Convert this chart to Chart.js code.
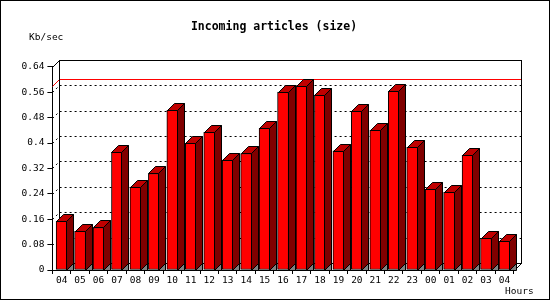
<!DOCTYPE html>
<html>
<head>
<meta charset="utf-8">
<script src="https://cdn.jsdelivr.net/npm/chart.js@4/dist/chart.umd.min.js"></script>
<style>
    html, body { margin: 0; padding: 0; background: #fff; }
</style>
</head>
<body>
<canvas id="chart" width="550" height="300"></canvas>
<script>
// 시간대 (x축)
const hours = ['04', '05', '06', '07', '08', '09', '10', '11', '12', '13', '14', '15', '16',
               '17', '18', '19', '20', '21', '22', '23', '00', '01', '02', '03', '04'];
// 들어온 기사 크기 (Kb/sec)
const kbPerSec = [0.153, 0.122, 0.134, 0.371, 0.261, 0.304, 0.503, 0.399, 0.434, 0.346, 0.367, 0.446, 0.560,
                  0.579, 0.551, 0.375, 0.500, 0.440, 0.563, 0.386, 0.254, 0.245, 0.361, 0.100, 0.090];
// y축 눈금
const yTickValues = [0, 0.08, 0.16, 0.24, 0.32, 0.4, 0.48, 0.56, 0.64];
const yTickLabels = ['0', '0.08', '0.16', '0.24', '0.32', '0.4', '0.48', '0.56', '0.64'];

const DEPTH = 7;
const monoFont = { family: 'DejaVu Sans Mono', size: 9.5 };

function px(v) { return Math.round(v) + 0.5; }

function poly(ctx, pts, fill) {
    ctx.beginPath();
    ctx.moveTo(pts[0][0], pts[0][1]);
    for (let i = 1; i < pts.length; i++) ctx.lineTo(pts[i][0], pts[i][1]);
    ctx.closePath();
    if (fill) { ctx.fillStyle = fill; ctx.fill(); }
    ctx.stroke();
}

// 3D 상자 (뒷벽, 격자, 최대값 선)
const boxPlugin = {
    id: 'box3d',
    beforeDatasetsDraw(chart) {
        const { ctx, chartArea: a, scales: { y } } = chart;
        const L = px(a.left), R = px(a.right), T = px(a.top), B = px(a.bottom);
        const d = DEPTH;
        ctx.save();
        ctx.lineWidth = 1;
        ctx.strokeStyle = '#000';

        // 뒷벽 점선 격자
        ctx.setLineDash([2, 3]);
        yTickValues.forEach(v => {
            if (v === 0 || v === yTickValues[yTickValues.length - 1]) return;
            const yy = px(y.getPixelForValue(v));
            ctx.beginPath();
            ctx.moveTo(L, yy);
            ctx.lineTo(L + d, yy - d);
            ctx.lineTo(R + d, yy - d);
            ctx.stroke();
        });
        ctx.setLineDash([]);

        // 최대값 선
        const maxVal = Math.max(...kbPerSec);
        const my = px(y.getPixelForValue(maxVal));
        ctx.strokeStyle = '#ff0000';
        ctx.beginPath();
        ctx.moveTo(L, my);
        ctx.lineTo(L + d, my - d);
        ctx.lineTo(R + d, my - d);
        ctx.stroke();

        // 뒷벽 테두리
        ctx.strokeStyle = '#000';
        ctx.strokeRect(L + d, T - d, R - L, B - T);
        ctx.beginPath();
        ctx.moveTo(L, T); ctx.lineTo(L + d, T - d);
        ctx.moveTo(R, B); ctx.lineTo(R + d, B - d);
        ctx.stroke();
        ctx.restore();
    },
    afterDatasetsDraw(chart) {
        const { ctx } = chart;
        const meta = chart.getDatasetMeta(0);
        const d = DEPTH;
        ctx.save();
        ctx.lineWidth = 1;
        ctx.strokeStyle = '#000';
        meta.data.forEach(bar => {
            const p = bar.getProps(['x', 'y', 'base', 'width'], true);
            const left = px(p.x - p.width / 2);
            const right = px(p.x + p.width / 2) - 1;
            const top = px(p.y);
            const bottom = px(p.base);
            // 옆면
            poly(ctx, [[right, top], [right + d, top - d], [right + d, bottom - d], [right, bottom]], '#800000');
            // 바닥 그림자
            poly(ctx, [[right, bottom], [right + d, bottom - d], [right + d, bottom]], '#808080');
            // 윗면
            poly(ctx, [[left, top], [left + d, top - d], [right + d, top - d], [right, top]], '#c00000');
        });
        ctx.restore();
    },
    afterDraw(chart) {
        const { ctx, width, height } = chart;
        ctx.save();
        ctx.fillStyle = '#000';
        ctx.font = '9.5px "DejaVu Sans Mono"';
        ctx.textBaseline = 'middle';
        ctx.textAlign = 'left';
        ctx.fillText('Kb/sec', 29, 38);
        ctx.fillText('Hours', 505, 292);
        ctx.strokeStyle = '#000';
        ctx.lineWidth = 1;
        ctx.strokeRect(0.5, 0.5, width - 1, height - 1);
        ctx.restore();
    }
};

const ctx = document.getElementById('chart').getContext('2d');
new Chart(ctx, {
    type: 'bar',
    data: {
        labels: hours,
        datasets: [{
            data: kbPerSec,
            backgroundColor: '#ff0000',
            borderColor: '#000',
            borderWidth: 1,
            borderSkipped: false,
            barThickness: 11
        }]
    },
    options: {
        responsive: false,
        animation: false,
        devicePixelRatio: 1,
        layout: { padding: { left: 0, right: 2, top: 0, bottom: 0 } },
        plugins: {
            legend: { display: false },
            tooltip: { enabled: false },
            title: {
                display: true,
                text: 'Incoming articles (size)',
                color: '#000',
                font: { family: 'DejaVu Sans Mono', size: 11.5, weight: 'bold' },
                padding: { top: 20, bottom: 33 }
            }
        },
        scales: {
            x: {
                type: 'category',
                offset: true,
                grid: { offset: true, drawOnChartArea: false, tickLength: 4, color: '#000' },
                border: { display: true, color: '#000' },
                ticks: { autoSkip: false, maxRotation: 0, color: '#000', font: monoFont, padding: 1 },
                afterFit: s => { s.height = 30; }
            },
            y: {
                min: 0,
                max: 0.64,
                afterBuildTicks: s => { s.ticks = yTickValues.map(v => ({ value: v })); },
                ticks: { callback: (v, i) => yTickLabels[i], color: '#000', font: monoFont, padding: 3 },
                grid: { drawOnChartArea: false, tickLength: 5, color: '#000' },
                border: { display: true, color: '#000' },
                afterFit: s => { s.width = 52.4; }
            },
            // 오른쪽 여백용 빈 축
            yRight: {
                position: 'right',
                min: 0,
                max: 0.64,
                grid: { display: false },
                border: { display: false },
                ticks: { display: false },
                afterFit: s => { s.width = 34.3; }
            }
        }
    },
    plugins: [boxPlugin]
});
</script>
</body>
</html>
